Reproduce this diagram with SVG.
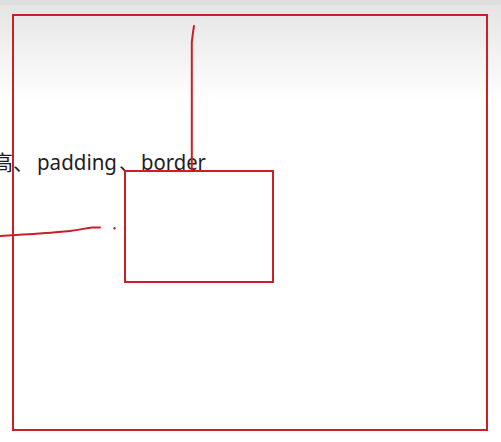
<svg xmlns="http://www.w3.org/2000/svg" width="501" height="442" viewBox="0 0 501 442">
  <defs>
    <linearGradient id="bg" x1="0" y1="0" x2="0" y2="1">
      <stop offset="0" stop-color="#e3e3e3"/>
      <stop offset="1" stop-color="#ffffff"/>
    </linearGradient>
    <style>
      .red { fill: none; stroke: #cc1e26; stroke-width: 2; }
      .ink { stroke: #cc1e26; stroke-width: 2; fill: none; stroke-linecap: round; }
      .label { font-family: "Noto Sans", "Noto Sans CJK SC", sans-serif; font-size: 21px; fill: #1e1e1e; }
    </style>
  </defs>
  <rect x="0" y="0" width="501" height="442" fill="#ffffff"/>
  <rect x="0" y="0" width="501" height="100" fill="url(#bg)"/>
  <rect x="0" y="0" width="501" height="5" fill="#dedede"/>

  <g id="outer">
    <rect class="red" x="13" y="15" width="474" height="415"/>
  </g>

  <g id="label">
    <text class="label" x="-8" y="170">高、<tspan x="37" textLength="80" lengthAdjust="spacingAndGlyphs">padding</tspan><tspan x="119">、</tspan><tspan x="141" textLength="65" lengthAdjust="spacingAndGlyphs">border</tspan></text>
  </g>

  <g id="inner">
    <rect class="red" x="125" y="171" width="148" height="111"/>
  </g>

  <g id="connectors">
    <path class="ink" d="M194,26 C193,32 192.5,36 191.8,42 L191.8,171"/>
    <path class="ink" d="M0,236 C25,234.5 50,233 70,231 C80,230 86,228 92,227.5 L100,227.5"/>
    <circle cx="114.5" cy="228.3" r="1.2" fill="#cc1e26"/>
  </g>
</svg>
